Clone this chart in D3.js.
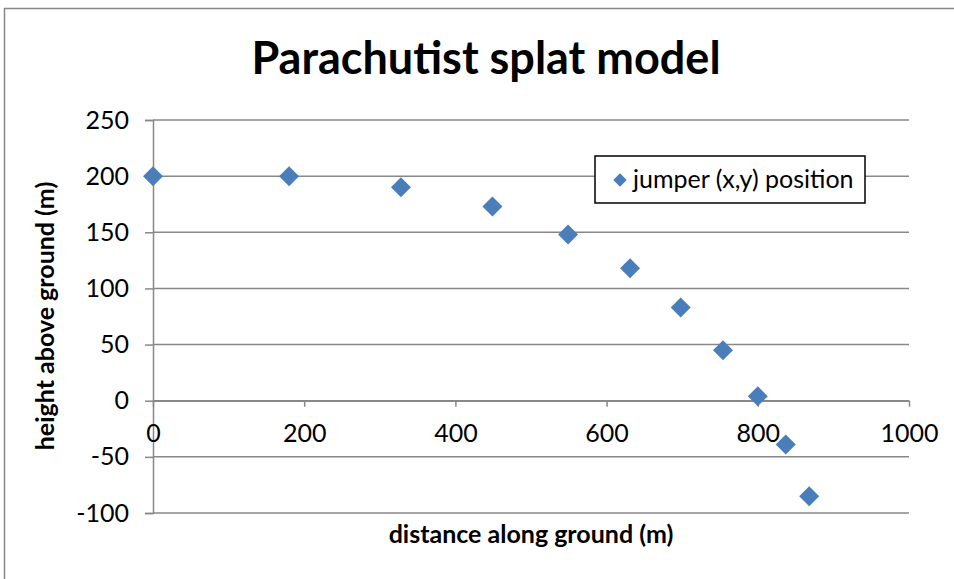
<!DOCTYPE html>
<html>
<head>
<meta charset="utf-8">
<script src="https://cdn.jsdelivr.net/npm/d3@7"></script>
<style>
  body { margin: 0; background: #fff; }
  text { font-family: Lato, 'Open Sans', sans-serif; fill: #000; }
</style>
</head>
<body>
<div id="chart"></div>
<script>
// jumper positions
const distance = [0, 180, 328, 449, 549, 631, 698, 754, 800, 837, 868]
const height = [200, 200, 190, 173, 148, 118, 83, 45, 4, -39, -85]

const xTicks = [0, 200, 400, 600, 800, 1000]
const yTicks = [-100, -50, 0, 50, 100, 150, 200, 250]

const seriesName = 'jumper (x,y) position'
const blue = '#4a7ebb'
const grid = '#888888'

const W = 954
const H = 579
const margin = { top: 120, left: 153, right: 45, bottom: 66 }
const width = W - margin.left - margin.right
const plotHeight = H - margin.top - margin.bottom

const svg = d3
  .select('#chart')
  .append('svg')
  .attr('width', W)
  .attr('height', H)

// chart border
svg
  .append('rect')
  .attr('x', 4.5)
  .attr('y', 8.5)
  .attr('width', W + 10)
  .attr('height', H + 10)
  .attr('fill', 'none')
  .attr('stroke', grid)
  .attr('stroke-width', 1.5)

const g = svg
  .append('g')
  .attr('transform', 'translate(' + margin.left + ',' + margin.top + ')')

const xScale = d3.scaleLinear().domain([0, 1000]).range([0, width])
const yScale = d3.scaleLinear().domain([-100, 250]).range([plotHeight, 0])

// plain labels, hyphen minus and no thousands comma
const fmt = d => String(d)

// horizontal gridlines
g.selectAll('.grid')
  .data(yTicks)
  .enter()
  .append('line')
  .attr('class', 'grid')
  .attr('x1', 0)
  .attr('x2', width)
  .attr('y1', d => yScale(d))
  .attr('y2', d => yScale(d))
  .attr('stroke', grid)
  .attr('stroke-width', 1.5)

// y axis
const yAxis = g
  .append('g')
  .call(d3.axisLeft(yScale).tickValues(yTicks).tickFormat(fmt).tickSize(8).tickPadding(16))
yAxis.select('.domain').attr('stroke', grid).attr('stroke-width', 1.5)
yAxis.selectAll('.tick line').attr('stroke', grid).attr('stroke-width', 1.5)
yAxis.selectAll('text').attr('font-size', 25).attr('font-family', 'Lato')

// x axis sits on y = 0
const xAxis = g
  .append('g')
  .attr('transform', 'translate(0,' + yScale(0) + ')')
  .call(
    d3
      .axisBottom(xScale)
      .tickValues(xTicks)
      .tickFormat(fmt)
      .tickSize(6)
      .tickSizeOuter(0)
      .tickPadding(18)
  )
xAxis.select('.domain').attr('stroke', grid).attr('stroke-width', 1.5)
xAxis.selectAll('.tick line').attr('stroke', grid).attr('stroke-width', 1.5)
xAxis.selectAll('text').attr('font-size', 25).attr('font-family', 'Lato')

// points
const diamond = d3.symbol().type(d3.symbolSquare).size(200)
g.selectAll('.pt')
  .data(distance)
  .enter()
  .append('path')
  .attr('class', 'pt')
  .attr('d', diamond)
  .attr('transform', (d, i) => 'translate(' + xScale(d) + ',' + yScale(height[i]) + ') rotate(45)')
  .attr('fill', blue)

// title
svg
  .append('text')
  .attr('x', 486)
  .attr('y', 74)
  .attr('text-anchor', 'middle')
  .attr('font-size', 45)
  .attr('font-weight', 700)
  .text('Parachutist splat model')

// axis titles
svg
  .append('text')
  .attr('x', margin.left + width / 2)
  .attr('y', 543)
  .attr('text-anchor', 'middle')
  .attr('font-size', 25)
  .attr('font-weight', 700)
  .text('distance along ground (m)')

svg
  .append('text')
  .attr('transform', 'translate(54,316) rotate(-90)')
  .attr('text-anchor', 'middle')
  .attr('font-size', 25)
  .attr('font-weight', 700)
  .text('height above ground (m)')

// legend
const legend = svg.append('g').attr('transform', 'translate(595,156)')
legend
  .append('rect')
  .attr('width', 270)
  .attr('height', 47)
  .attr('fill', '#fff')
  .attr('stroke', '#000')
  .attr('stroke-width', 1.5)
legend
  .append('path')
  .attr('d', d3.symbol().type(d3.symbolSquare).size(90))
  .attr('transform', 'translate(25,24) rotate(45)')
  .attr('fill', blue)
legend
  .append('text')
  .attr('x', 38)
  .attr('y', 32)
  .attr('font-size', 25)
  .text(seriesName)
</script>
</body>
</html>
